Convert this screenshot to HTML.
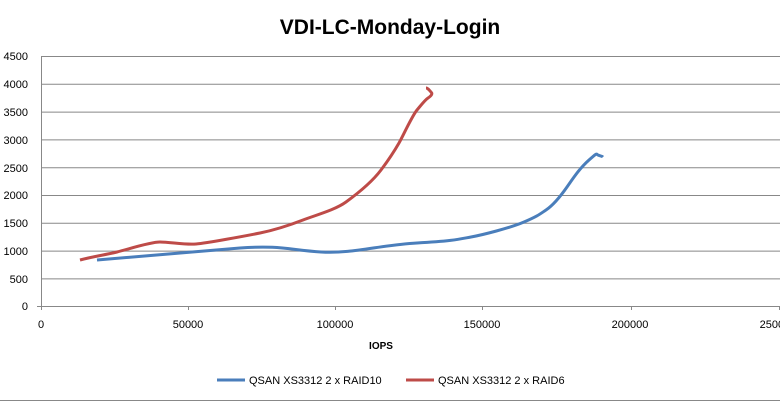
<!DOCTYPE html>
<html><head><style>
body{margin:0;background:#fff}
svg text{font-family:"Liberation Sans",sans-serif}
</style></head><body>
<svg width="780" height="401" viewBox="0 0 780 401" xmlns="http://www.w3.org/2000/svg">
<rect width="780" height="401" fill="#fff"/>
<line x1="0" y1="400.5" x2="780" y2="400.5" stroke="#888"/>
<text x="390" y="34" font-size="21" font-weight="bold" text-anchor="middle" fill="#000">VDI-LC-Monday-Login</text>
<g stroke="#888" stroke-width="1">
<line x1="41" y1="56.5" x2="780" y2="56.5"/>
<line x1="41" y1="84.3" x2="780" y2="84.3"/>
<line x1="41" y1="112.1" x2="780" y2="112.1"/>
<line x1="41" y1="139.9" x2="780" y2="139.9"/>
<line x1="41" y1="167.7" x2="780" y2="167.7"/>
<line x1="41" y1="195.5" x2="780" y2="195.5"/>
<line x1="41" y1="223.3" x2="780" y2="223.3"/>
<line x1="41" y1="251.1" x2="780" y2="251.1"/>
<line x1="41" y1="278.9" x2="780" y2="278.9"/>
<line x1="37" y1="306.5" x2="780" y2="306.5"/>
<line x1="41.5" y1="56" x2="41.5" y2="310"/>
<line x1="188.5" y1="306" x2="188.5" y2="310"/>
<line x1="335.5" y1="306" x2="335.5" y2="310"/>
<line x1="482.5" y1="306" x2="482.5" y2="310"/>
<line x1="631.5" y1="306" x2="631.5" y2="310"/>
<line x1="779.5" y1="306" x2="779.5" y2="310"/>
</g>
<g font-size="11" fill="#000" text-anchor="end">
<text x="28" y="60">4500</text><text x="28" y="88">4000</text><text x="28" y="116">3500</text>
<text x="28" y="144">3000</text><text x="28" y="172">2500</text><text x="28" y="199">2000</text>
<text x="28" y="227">1500</text><text x="28" y="255">1000</text><text x="28" y="283">500</text>
<text x="28" y="310">0</text>
</g>
<g font-size="11" fill="#000" text-anchor="middle">
<text x="41" y="328">0</text><text x="188" y="328">50000</text><text x="335" y="328">100000</text>
<text x="482" y="328">150000</text><text x="630" y="328">200000</text><text x="778" y="328">250000</text>
</g>
<text x="381" y="349" font-size="10" font-weight="bold" text-anchor="middle">IOPS</text>
<path d="M97,260 C150,256 200,251 240,248 S290,250 321,252 S380,245 417,243 S460,239 471,237 S510,228 524,222 S540,214 546,210 S560,197 567,187 S580,168 589,160 S596,154 598,155 S602,156 603,157" fill="none" stroke="#4a7ebb" stroke-width="3"/>
<path d="M80,260 C95,256 105,255 117,252 S150,242 160,242 S185,245 196,244 S245,236 260,233 S290,225 303,220 S335,210 346,202 S372,182 381,170 S395,150 399,143 S412,116 417,110 S425,100 428,98 S433,94 431,92 S428,88 426,88" fill="none" stroke="#be4b48" stroke-width="3"/>
<line x1="217" y1="380" x2="245" y2="380" stroke="#4a7ebb" stroke-width="3"/>
<text x="249" y="384" font-size="11">QSAN XS3312 2 x RAID10</text>
<line x1="406" y1="380" x2="434" y2="380" stroke="#be4b48" stroke-width="3"/>
<text x="438" y="384" font-size="11">QSAN XS3312 2 x RAID6</text>
</svg>
</body></html>
